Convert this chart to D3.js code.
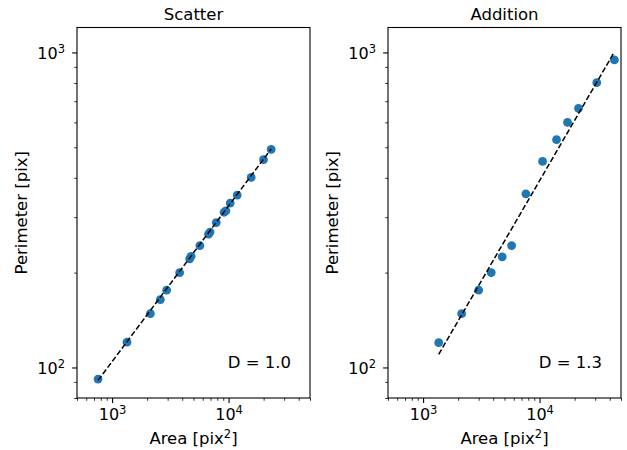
<!DOCTYPE html>
<html><head><meta charset="utf-8">
<script src="https://cdn.jsdelivr.net/npm/d3@7"></script>
<style>body{margin:0;background:#fff} svg{display:block}</style>
</head><body><svg id="c" width="627" height="450"></svg>
<script>
// ---- data ----
const scatterArea  = [758, 1343, 2132, 2597, 2941, 3802, 4634, 4767, 5675, 6732, 6935, 7839, 9146, 9480, 10330, 11860, 15630, 19950, 23210];
const scatterPerim = [91.9, 120.3, 148.2, 164.2, 175.9, 200, 221.3, 225.3, 243.8, 265, 269, 288.4, 311, 314.2, 332.6, 352.5, 401, 456.6, 492.2];
const scatterFitArea  = [758, 23210];
const scatterFitPerim = [91, 494];

const additionArea  = [1362, 2144, 3000, 3846, 4777, 5754, 7628, 10605, 13980, 17370, 21580, 30970, 43880];
const additionPerim = [119.9, 148.2, 175.9, 200, 224.5, 243.8, 355.9, 450.8, 528.5, 600, 664.8, 801.8, 947];
const additionFitArea  = [1362, 43880];
const additionFitPerim = [110.1, 1004];

const panelTitles = ["Scatter", "Addition"];
const panelNotes  = ["D = 1.0", "D = 1.3"];
const xDomain = [500, 50000];
const yDomain = [80, 1200];
const xLabelMain = "Area [pix", xLabelSup = "2", xLabelEnd = "]";
const yLabel = "Perimeter [pix]";

// ---- drawing ----
const svg = d3.select("#c");
const FONT = "DejaVu Sans, sans-serif";
const panels = [
  {x0: 77, title: panelTitles[0], note: panelNotes[0], xs: scatterArea, ys: scatterPerim, fx: scatterFitArea, fy: scatterFitPerim},
  {x0: 388, title: panelTitles[1], note: panelNotes[1], xs: additionArea, ys: additionPerim, fx: additionFitArea, fy: additionFitPerim}
];
const W = 233, plotTop = 27.5, plotBottom = 398;

function supLabel(sel, anchor) {
  sel.each(function(d) {
    const t = d3.select(this);
    const e = Math.round(Math.log10(d));
    t.text(null).attr("text-anchor", anchor);
    t.append("tspan").text("10");
    t.append("tspan").attr("font-size", "11.5px").attr("dy", "-6").text(String(e));
  });
}

panels.forEach(p => {
  const x = d3.scaleLog().domain(xDomain).range([p.x0, p.x0 + W]);
  const y = d3.scaleLog().domain(yDomain).range([plotBottom, plotTop]);
  const g = svg.append("g");

  const isMajor = v => Math.abs(Math.log10(v) - Math.round(Math.log10(v))) < 1e-9;
  const xt = x.ticks(), yt = y.ticks();
  const xMaj = xt.filter(isMajor), xMin = xt.filter(v => !isMajor(v));
  const yMaj = yt.filter(isMajor), yMin = yt.filter(v => !isMajor(v));

  // minor ticks
  const xMinAx = g.append("g").attr("transform", `translate(0,${plotBottom})`)
    .call(d3.axisBottom(x).tickValues(xMin).tickSize(2.8).tickFormat(""));
  const yMinAx = g.append("g").attr("transform", `translate(${p.x0},0)`)
    .call(d3.axisLeft(y).tickValues(yMin).tickSize(2.8).tickFormat(""));
  [xMinAx, yMinAx].forEach(a => { a.select(".domain").remove(); a.selectAll("line").attr("stroke-width", 0.8); });

  // major ticks
  const xAx = g.append("g").attr("transform", `translate(0,${plotBottom})`)
    .call(d3.axisBottom(x).tickValues(xMaj).tickSize(4.9).tickPadding(4.9).tickFormat(d => d));
  const yAx = g.append("g").attr("transform", `translate(${p.x0},0)`)
    .call(d3.axisLeft(y).tickValues(yMaj).tickSize(4.9).tickPadding(4.9).tickFormat(d => d));
  [xAx, yAx].forEach(a => { a.select(".domain").remove(); a.selectAll("line").attr("stroke-width", 1.1); });
  xAx.selectAll("text").attr("font-family", FONT).attr("font-size", "16px").attr("fill", "#000")
     .attr("dy", null).attr("y", 22).call(s => supLabel(s, "middle"));
  yAx.selectAll("text").attr("font-family", FONT).attr("font-size", "16px").attr("fill", "#000")
     .attr("dy", null).attr("x", -12).attr("y", 6).call(s => supLabel(s, "end"));

  // points
  g.append("g").selectAll("circle").data(p.xs.map((v, i) => [v, p.ys[i]])).join("circle")
    .attr("cx", d => x(d[0])).attr("cy", d => y(d[1])).attr("r", 4.4).attr("fill", "#1f77b4");

  // fit line
  g.append("path").datum(p.fx.map((v, i) => [v, p.fy[i]]))
    .attr("d", d3.line().x(d => x(d[0])).y(d => y(d[1])))
    .attr("fill", "none").attr("stroke", "#000").attr("stroke-width", 1.5).attr("stroke-dasharray", "5.55,2.4");

  // frame
  g.append("rect").attr("x", p.x0).attr("y", plotTop).attr("width", W).attr("height", plotBottom - plotTop)
    .attr("fill", "none").attr("stroke", "#000").attr("stroke-width", 1.1);

  // title
  g.append("text").attr("x", p.x0 + W / 2).attr("y", 20).attr("text-anchor", "middle")
    .attr("font-family", FONT).attr("font-size", "16.5px").text(p.title);

  // note
  g.append("text").attr("x", p.x0 + W - 19).attr("y", 368).attr("text-anchor", "end")
    .attr("font-family", FONT).attr("font-size", "16.5px").text(p.note);

  // x label
  const xl = g.append("text").attr("x", p.x0 + W / 2).attr("y", 444).attr("text-anchor", "middle")
    .attr("font-family", FONT).attr("font-size", "16.5px");
  xl.append("tspan").text(xLabelMain);
  xl.append("tspan").attr("font-size", "11.5px").attr("dy", "-6").text(xLabelSup);
  xl.append("tspan").attr("dy", "6").text(xLabelEnd);

  // y label
  g.append("text").attr("transform", `translate(${p.x0 - 50},${(plotTop + plotBottom) / 2}) rotate(-90)`)
    .attr("text-anchor", "middle").attr("font-family", FONT).attr("font-size", "16.5px").text(yLabel);
});
</script>
</body></html>
